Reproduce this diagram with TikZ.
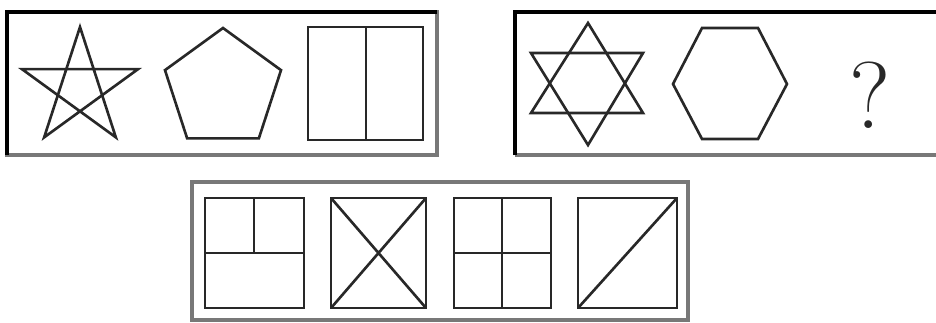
\documentclass[tikz,border=0pt]{standalone}
\usepackage{xcolor}
\definecolor{inkdark}{RGB}{40, 40, 40}
\definecolor{framegrey}{RGB}{120, 120, 120}
\usetikzlibrary{calc}

\tikzset{
  figline/.style={line width=1.5pt, draw=inkdark, line join=miter},
  frameline/.style={line width=2.2pt, draw=framegrey},
  darkedge/.style={line width=2.2pt, draw=black},
}

\begin{document}
\begin{tikzpicture}[x=0.02cm, y=-0.02cm]
    \useasboundingbox (0,0) rectangle (936,322);
    % top left panel
    \draw[frameline] (7,12) rectangle (437,155);
    \draw[darkedge] (7,155) -- (7,12) -- (437,12);
    \draw[figline] (80,88) ++(-90:61) \foreach \k in {1,...,4} { -- ($(80,88)+(-90+144*\k:61)$) } -- cycle;
    \draw[figline] (223,89) ++(-90:61) \foreach \k in {1,...,4} { -- ($(223,89)+(-90+72*\k:61)$) } -- cycle;
    \draw[figline] (308,27) rectangle (423,140);
    \draw[figline] (366,27) -- (366,140);
    % top right panel
    \draw[frameline] (515,12) -- (936,12);
    \draw[frameline] (515,155) -- (936,155);
    \draw[darkedge] (515,155) -- (515,12) -- (936,12);
    \draw[figline] (588,23) -- (643,113) -- (531,113) -- cycle;
    \draw[figline] (588,145) -- (643,53) -- (531,53) -- cycle;
    \draw[figline] (702,28) -- (758,28) -- (787,84) -- (758,139) -- (702,139) -- (673,84) -- cycle;
    \node[inkdark, font=\fontsize{54}{54}\selectfont] (qmark) at (870,95) {?};
    % bottom panel
    \draw[frameline] (192,182) rectangle (688,320);
    \draw[figline] (205,198) rectangle (304,308);
    \draw[figline] (205,253) -- (304,253) (254,198) -- (254,253);
    \draw[figline] (331,198) rectangle (426,308);
    \draw[figline] (331,198) -- (426,308) (331,308) -- (426,198);
    \draw[figline] (454,198) rectangle (551,308);
    \draw[figline] (454,253) -- (551,253) (502,198) -- (502,308);
    \draw[figline] (578,198) rectangle (677,308);
    \draw[figline] (578,308) -- (677,198);
\end{tikzpicture}
\end{document}
